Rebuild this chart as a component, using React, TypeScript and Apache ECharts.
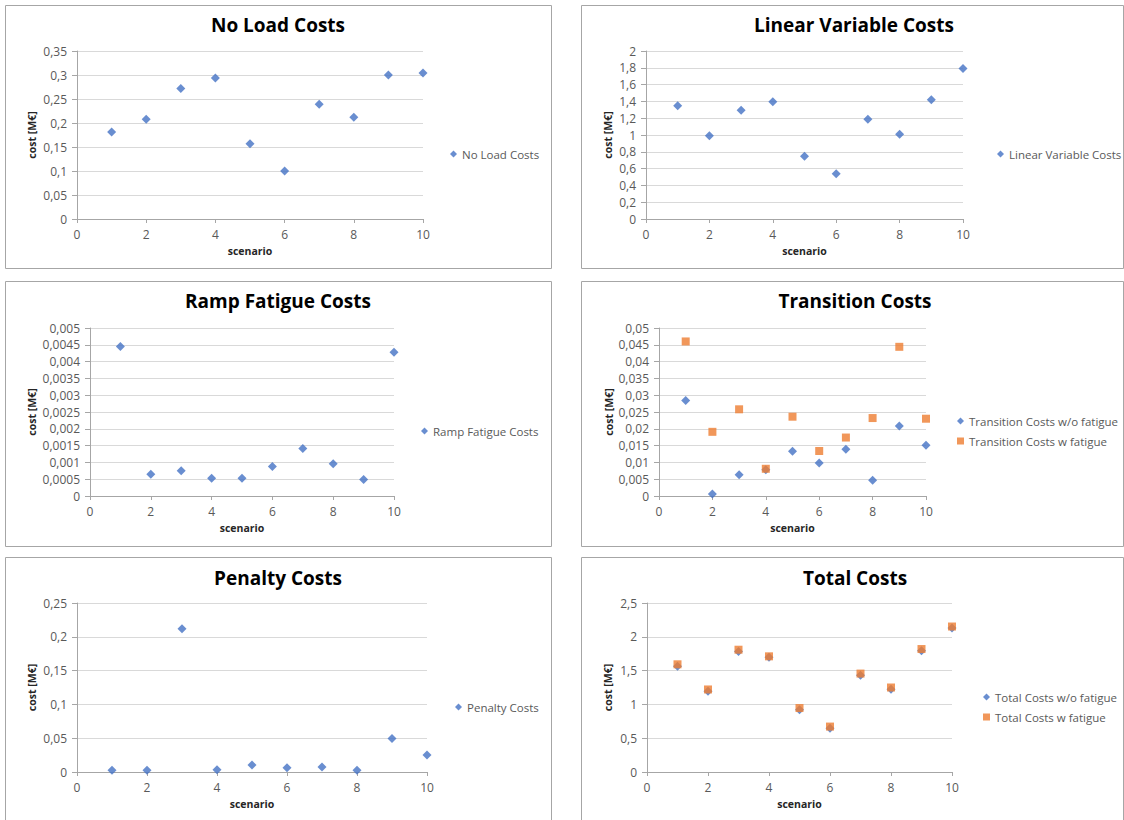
import React, { useEffect, useRef } from "react";
import * as echarts from "echarts";

const scenarios = [1, 2, 3, 4, 5, 6, 7, 8, 9, 10];

const noLoadCosts = [0.181, 0.208, 0.272, 0.294, 0.157, 0.1, 0.239, 0.212, 0.3, 0.304];
const linearVariableCosts = [1.349, 0.99, 1.294, 1.396, 0.746, 0.54, 1.187, 1.01, 1.42, 1.791];
const rampFatigueCosts = [0.00445, 0.00065, 0.00075, 0.00053, 0.00053, 0.00088, 0.00141, 0.00096, 0.00049, 0.00428];
const transitionWithoutFatigue = [0.0284, 0.0006, 0.0063, 0.0078, 0.0133, 0.0098, 0.0139, 0.0047, 0.0208, 0.0151];
const transitionWithFatigue = [0.046, 0.0191, 0.0258, 0.0081, 0.0236, 0.0134, 0.0174, 0.0232, 0.0444, 0.023];
const penaltyCosts = [0.0025, 0.0025, 0.212, 0.0034, 0.0103, 0.0064, 0.0074, 0.0025, 0.0495, 0.025];
const totalWithoutFatigue = [1.564, 1.196, 1.784, 1.696, 0.922, 0.647, 1.431, 1.225, 1.794, 2.132];
const totalWithFatigue = [1.593, 1.221, 1.809, 1.711, 0.946, 0.672, 1.456, 1.25, 1.819, 2.152];

const panelTitles = ["No Load Costs", "Linear Variable Costs", "Ramp Fatigue Costs", "Transition Costs", "Penalty Costs", "Total Costs"];
const yMax = [0.35, 2, 0.005, 0.05, 0.25, 2.5];
const yInterval = [0.05, 0.2, 0.0005, 0.005, 0.05, 0.5];

const BLUE = "#4472C4";
const ORANGE = "#ED7D31";
const FONT = "'Open Sans', 'Noto Sans', sans-serif";

// layout per panel
const grids = [
  { left: 77, top: 51, width: 346, height: 168 },
  { left: 646, top: 51, width: 317, height: 168 },
  { left: 90, top: 328, width: 304, height: 168 },
  { left: 659, top: 328, width: 267, height: 168 },
  { left: 77, top: 603, width: 350, height: 169 },
  { left: 647, top: 603, width: 305, height: 169 },
];
const yNameGaps = [40, 33, 53, 45, 40, 34];
const borders = [
  { x: 5, y: 5, w: 546, h: 263 },
  { x: 581, y: 5, w: 542, h: 263 },
  { x: 5, y: 281, w: 546, h: 265 },
  { x: 581, y: 281, w: 542, h: 265 },
  { x: 5, y: 557, w: 546, h: 270 },
  { x: 581, y: 557, w: 542, h: 270 },
];
const titlePos = [
  { x: 278, y: 25 },
  { x: 854, y: 25 },
  { x: 278, y: 301 },
  { x: 855, y: 301 },
  { x: 278, y: 578 },
  { x: 855, y: 578 },
];
const legendPos = [
  { left: 449, top: 147 },
  { left: 996, top: 147 },
  { left: 420, top: 424 },
  { left: 956, top: 414 },
  { left: 454, top: 700 },
  { left: 982, top: 690 },
];

const seriesDefs = [
  { name: "No Load Costs", data: noLoadCosts, panel: 0, color: BLUE, symbol: "diamond" },
  { name: "Linear Variable Costs", data: linearVariableCosts, panel: 1, color: BLUE, symbol: "diamond" },
  { name: "Ramp Fatigue Costs", data: rampFatigueCosts, panel: 2, color: BLUE, symbol: "diamond" },
  { name: "Transition Costs w/o fatigue", data: transitionWithoutFatigue, panel: 3, color: BLUE, symbol: "diamond" },
  { name: "Transition Costs w fatigue", data: transitionWithFatigue, panel: 3, color: ORANGE, symbol: "rect" },
  { name: "Penalty Costs", data: penaltyCosts, panel: 4, color: BLUE, symbol: "diamond" },
  { name: "Total Costs w/o fatigue", data: totalWithoutFatigue, panel: 5, color: BLUE, symbol: "diamond" },
  { name: "Total Costs w fatigue", data: totalWithFatigue, panel: 5, color: ORANGE, symbol: "rect" },
];

const fmt = (v: number) => String(parseFloat(v.toPrecision(8))).replace(".", ",");

export default function App() {
  const ref = useRef<HTMLDivElement>(null);
  useEffect(() => {
    if (!ref.current) return;
    const chart = echarts.init(ref.current, undefined, { renderer: "svg" });

    const xAxis = grids.map((_, i) => ({
      type: "value",
      gridIndex: i,
      min: 0,
      max: 10,
      interval: 2,
      name: "scenario",
      nameLocation: "middle",
      nameGap: 26,
      nameTextStyle: { fontFamily: FONT, fontSize: 10.5, fontWeight: "bold", color: "#262626" },
      axisLine: { show: true, lineStyle: { color: "#a6a6a6", width: 1 } },
      axisTick: { show: true, length: 4, lineStyle: { color: "#a6a6a6" } },
      axisLabel: { fontFamily: FONT, fontSize: 12, color: "#595959", margin: 9 },
      splitLine: { show: false },
    }));

    const yAxis = grids.map((_, i) => ({
      type: "value",
      gridIndex: i,
      min: 0,
      max: yMax[i],
      interval: yInterval[i],
      name: "cost [M€]",
      nameLocation: "middle",
      nameRotate: 90,
      nameGap: yNameGaps[i],
      nameTextStyle: { fontFamily: FONT, fontSize: 10.5, fontWeight: "bold", color: "#262626" },
      axisLine: { show: true, lineStyle: { color: "#a6a6a6", width: 1 } },
      axisTick: { show: true, length: 5, lineStyle: { color: "#a6a6a6" } },
      axisLabel: { fontFamily: FONT, fontSize: 12, color: "#595959", margin: 10, formatter: fmt },
      splitLine: { show: true, lineStyle: { color: "#d9d9d9", width: 1 } },
    }));

    const series = seriesDefs.map((s) => ({
      type: "scatter",
      name: s.name,
      xAxisIndex: s.panel,
      yAxisIndex: s.panel,
      symbol: s.symbol,
      symbolSize: s.symbol === "rect" ? 8 : 9,
      itemStyle: { color: s.color },
      data: s.data.map((v, k) => [scenarios[k], v]),
    }));

    const legend = grids.map((_, i) => ({
      orient: "vertical",
      left: legendPos[i].left - 4,
      top: legendPos[i].top - 5,
      itemWidth: 7,
      itemHeight: 7,
      itemGap: 6,
      textStyle: { fontFamily: FONT, fontSize: 11.5, color: "#595959", lineHeight: 14 },
      data: seriesDefs
        .filter((s) => s.panel === i)
        .map((s) => ({ name: s.name, icon: s.symbol })),
    }));

    const graphic: any[] = [];
    borders.forEach((b) => {
      graphic.push({
        type: "rect",
        silent: true,
        shape: { x: b.x + 0.5, y: b.y + 0.5, width: b.w, height: b.h },
        style: { fill: "none", stroke: "#a6a6a6", lineWidth: 1 },
        z: -1,
      });
    });
    titlePos.forEach((t, i) => {
      graphic.push({
        type: "text",
        silent: true,
        x: t.x,
        y: t.y,
        style: {
          text: panelTitles[i],
          fill: "#000000",
          font: `bold 19px ${FONT}`,
          textAlign: "center",
          textVerticalAlign: "middle",
        },
      });
    });

    chart.setOption({
      animation: false,
      backgroundColor: "#ffffff",
      grid: grids.map((g) => ({ ...g, containLabel: false })),
      xAxis,
      yAxis,
      series,
      legend,
      graphic,
    });

    return () => chart.dispose();
  }, []);

  return (
    <div
      ref={ref}
      style={{ position: "fixed", left: 0, top: 0, width: 1124, height: 820, background: "#fff" }}
    />
  );
}
